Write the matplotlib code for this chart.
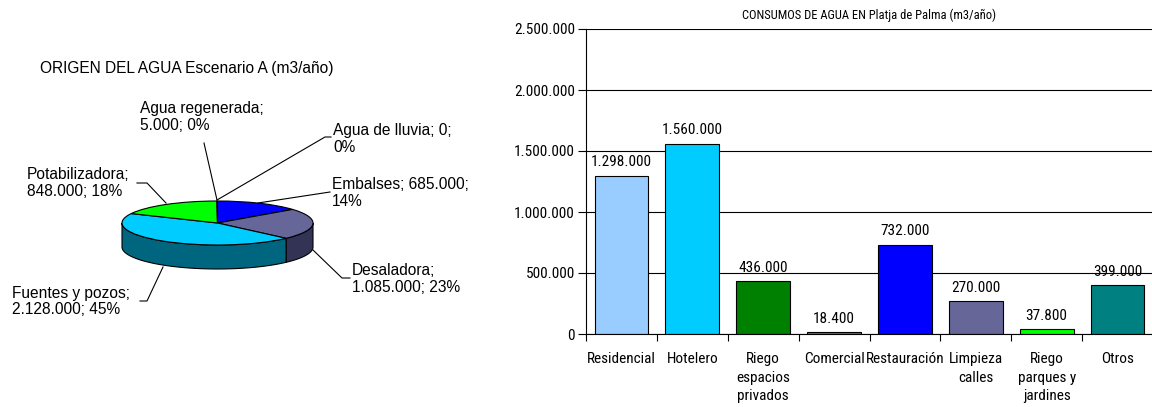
import numpy as np
import matplotlib
matplotlib.use("Agg")
import matplotlib.pyplot as plt
from matplotlib.lines import Line2D
from matplotlib.ticker import FixedLocator, FuncFormatter
from matplotlib import font_manager

# ---------------- data ----------------
pie_title = "ORIGEN DEL AGUA Escenario A (m3/año)"
pie_names = ["Agua de lluvia", "Embalses", "Desaladora", "Fuentes y pozos",
             "Potabilizadora", "Agua regenerada"]
pie_values = [0, 685000, 1085000, 2128000, 848000, 5000]
pie_colors = ["#9999FF", "#0000FF", "#666699", "#00CCFF", "#00FF00", "#FFFF99"]
pie_side_colors = ["#4D4D80", "#000080", "#333355", "#006680", "#008000", "#808060"]

bar_title = "CONSUMOS DE AGUA EN Platja de Palma (m3/año)"
bar_categories = ["Residencial", "Hotelero", "Riego\nespacios\nprivados", "Comercial",
                  "Restauración", "Limpieza\ncalles", "Riego\nparques y\njardines", "Otros"]
bar_values = [1298000, 1560000, 436000, 18400, 732000, 270000, 37800, 399000]
bar_colors = ["#99CCFF", "#00CCFF", "#008000", "#808000", "#0000FF", "#666699",
              "#00FF00", "#008080"]
y_ticks = [0, 500000, 1000000, 1500000, 2000000, 2500000]

W, H = 1152, 407
NORMAL = ["Liberation Sans", "DejaVu Sans"]
_names = {f.name for f in font_manager.fontManager.ttflist}
_narrow = next((n for n in ["Liberation Sans Narrow", "Arial Narrow",
                            "Roboto Condensed", "Open Sans Condensed"] if n in _names), None)
if _narrow:
    NARROW = [_narrow, "DejaVu Sans"]
    FS_BAR, FS_TITLE = 11, 9
else:
    NARROW = NORMAL
    FS_BAR, FS_TITLE = 9.5, 7.8


def fmt(v):
    return f"{v:,.0f}".replace(",", ".")


fig = plt.figure(figsize=(W / 100, H / 100), dpi=100)


def fx(px):
    return px / W


def fy(py):
    return 1 - py / H


# ---------------- 3D pie ----------------
cx, cy, rx, ry, depth = 217.5, 223.0, 95.5, 22.0, 24.0
axp = fig.add_axes([0, 0, 540 / W, 1])
total = sum(pie_values)
fracs = np.array(pie_values) / total
cum = np.concatenate([[0], np.cumsum(fracs)])
D = depth / ry
for i in range(len(pie_values)):
    a = 90 - 360 * cum[i]
    b = 90 - 360 * cum[i + 1]
    lo, hi = max(b, -180), min(a, 0)
    if hi > lo:
        t = np.radians(np.linspace(lo, hi, 60))
        xs = np.concatenate([np.cos(t), np.cos(t[::-1])])
        ys = np.concatenate([np.sin(t), np.sin(t[::-1]) - D])
        axp.fill(xs, ys, facecolor=pie_side_colors[i], edgecolor="black",
                 linewidth=0.8, zorder=0.5)
axp.pie(pie_values, colors=pie_colors, startangle=90, counterclock=False,
        radius=1, center=(0, 0), normalize=True,
        wedgeprops=dict(edgecolor="black", linewidth=0.8))
axp.set_aspect("auto")
axp.set_xlim((0 - cx) / rx, (540 - cx) / rx)
axp.set_ylim(-(H - cy) / ry, cy / ry)
axp.axis("off")

fig.text(fx(40), fy(68), pie_title, family=NORMAL, fontsize=11.2,
         ha="left", va="center")

# label layout: (left px, centre px, line break after which part)
pie_label_pos = {
    "Agua de lluvia": (333, 139, 2),
    "Embalses": (332, 193, 2),
    "Desaladora": (352, 279, 1),
    "Fuentes y pozos": (12, 301.5, 1),
    "Potabilizadora": (27, 183, 1),
    "Agua regenerada": (140, 117, 1),
}
for name, val in zip(pie_names, pie_values):
    x, y, brk = pie_label_pos[name]
    parts = [name, fmt(val), f"{round(100 * val / total):.0f}%"]
    txt = "; ".join(parts[:brk]) + ";\n" + "; ".join(parts[brk:])
    fig.text(fx(x), fy(y), txt, family=NORMAL, fontsize=11.2,
             ha="left", va="center", linespacing=1.15)

leaders = [
    [(204, 143), (217, 200)],
    [(331, 137), (325, 137), (217, 200)],
    [(330, 192), (258, 203)],
    [(137, 183), (147, 183), (166, 203)],
    [(313, 250), (342, 278), (350, 278)],
    [(163, 267), (147, 301), (140, 301)],
]
for pts in leaders:
    xs = [fx(p[0]) for p in pts]
    ys = [fy(p[1]) for p in pts]
    fig.add_artist(Line2D(xs, ys, color="black", linewidth=0.8,
                          transform=fig.transFigure))

# ---------------- bar chart ----------------
left, right, top, bottom = 586, 1153, 29, 334
axb = fig.add_axes([left / W, 1 - bottom / H, (right - left) / W, (bottom - top) / H])
x = np.arange(len(bar_values))
axb.bar(x, bar_values, width=0.76, color=bar_colors, edgecolor="black",
        linewidth=0.8, zorder=2)
for xi, v in zip(x, bar_values):
    axb.annotate(fmt(v), (xi, v), xytext=(0, 4.5), textcoords="offset points",
                 ha="center", va="bottom", family=NARROW, fontsize=FS_BAR)
axb.set_xlim(-0.5, len(bar_values) - 0.5)
axb.set_ylim(0, 2500000)
axb.yaxis.set_major_locator(FixedLocator(y_ticks))
axb.yaxis.set_major_formatter(FuncFormatter(lambda v, p: fmt(v)))
axb.set_xticks(x)
axb.set_xticklabels(bar_categories, family=NARROW, fontsize=FS_BAR, linespacing=1.42,
                    va="top")
axb.set_xticks(np.arange(-0.5, len(bar_values), 1), minor=True)
axb.tick_params(axis="x", which="major", length=0, pad=13)
axb.tick_params(axis="x", which="minor", length=5, width=0.8, direction="out")
axb.tick_params(axis="y", length=6, width=0.8, direction="out", pad=2)
for lab in axb.get_yticklabels():
    lab.set_family(NARROW)
    lab.set_fontsize(FS_BAR)
axb.yaxis.grid(True, color="black", linewidth=0.8)
axb.set_axisbelow(True)
for s in ["top", "right"]:
    axb.spines[s].set_visible(False)
for s in ["left", "bottom"]:
    axb.spines[s].set_color("black")
    axb.spines[s].set_linewidth(0.8)
axb.set_title(bar_title, family=NARROW, fontsize=FS_TITLE, pad=7)

fig.savefig("out.png", dpi=100)
